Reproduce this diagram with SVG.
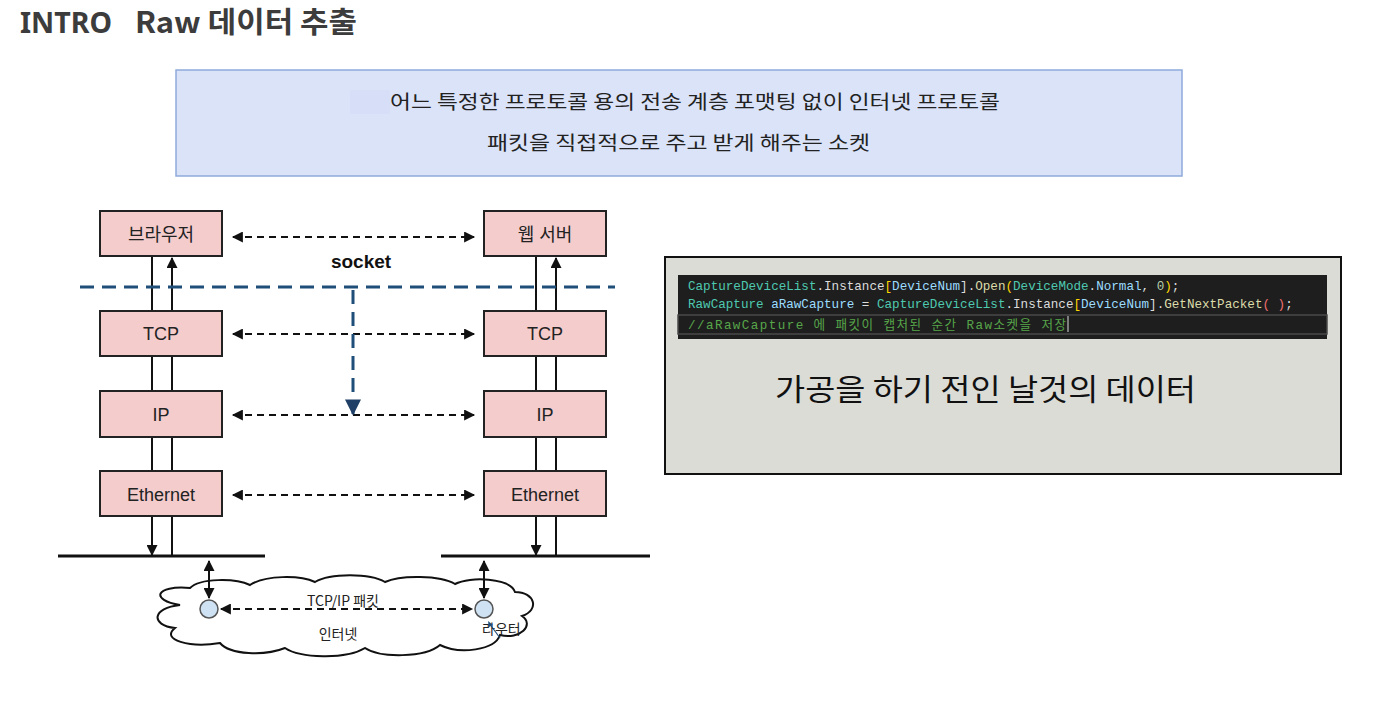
<svg xmlns="http://www.w3.org/2000/svg" width="1390" height="701" viewBox="0 0 1390 701">
<defs>
<marker id="ah" viewBox="0 0 10 10" refX="9" refY="5" markerWidth="13" markerHeight="11" markerUnits="userSpaceOnUse" orient="auto-start-reverse"><path d="M0,0 L10,5 L0,10 Z" fill="#111"/></marker>
<marker id="bh" viewBox="0 0 10 10" refX="9" refY="5" markerWidth="20" markerHeight="16" markerUnits="userSpaceOnUse" orient="auto"><path d="M0,0 L10,5 L0,10 Z" fill="#1f3f66"/></marker>
<style>
.kr{font-family:"Noto Sans CJK KR","Noto Sans",sans-serif}
.box rect{fill:#f4cccc;stroke:#222;stroke-width:2}
.box text{font-family:"Liberation Sans","Noto Sans CJK KR",sans-serif;font-size:18px;fill:#222;text-anchor:middle}
.ln{stroke:#111;stroke-width:2;fill:none}
.dash{stroke:#111;stroke-width:2;stroke-dasharray:7 5;fill:none}
.code{font-family:"Liberation Mono","Noto Sans CJK KR",monospace;font-size:12.6px}
</style>
</defs>
<rect width="1390" height="701" fill="#fff"/>

<g id="title">
<text x="20" y="33" font-family="Noto Sans,'Noto Sans CJK KR',sans-serif" font-weight="bold" font-size="29" fill="#3c3c3c" textLength="92" lengthAdjust="spacingAndGlyphs">INTRO</text>
<text x="135" y="33" class="kr" font-weight="bold" font-size="29" fill="#3c3c3c" textLength="222" lengthAdjust="spacingAndGlyphs">Raw 데이터 추출</text>
</g>

<g id="definition">
<rect x="176" y="70" width="1006" height="106" fill="#dae3f8" stroke="#8eaadb" stroke-width="1.5"/>
<rect x="350" y="90" width="40" height="24" fill="#d6dff7"/>
<text x="390" y="109" class="kr" font-size="19" fill="#222" textLength="610" lengthAdjust="spacingAndGlyphs">어느 특정한 프로토콜 용의 전송 계층 포맷팅 없이 인터넷 프로토콜</text>
<text x="487" y="150" class="kr" font-size="19" fill="#222" textLength="383" lengthAdjust="spacingAndGlyphs">패킷을 직접적으로 주고 받게 해주는 소켓</text>
</g>

<g id="connectors">
<line class="dash" x1="233" y1="237" x2="474" y2="237" marker-start="url(#ah)" marker-end="url(#ah)"/>
<line class="dash" x1="233" y1="334" x2="474" y2="334" marker-start="url(#ah)" marker-end="url(#ah)"/>
<line class="dash" x1="233" y1="415" x2="474" y2="415" marker-start="url(#ah)" marker-end="url(#ah)"/>
<line class="dash" x1="233" y1="495" x2="474" y2="495" marker-start="url(#ah)" marker-end="url(#ah)"/>
<line class="ln" x1="152" y1="256" x2="152" y2="311"/>
<line class="ln" x1="172" y1="311" x2="172" y2="258" marker-end="url(#ah)"/>
<line class="ln" x1="152" y1="356" x2="152" y2="391"/>
<line class="ln" x1="172" y1="356" x2="172" y2="391"/>
<line class="ln" x1="152" y1="437" x2="152" y2="471"/>
<line class="ln" x1="172" y1="437" x2="172" y2="471"/>
<line class="ln" x1="152" y1="516" x2="152" y2="555" marker-end="url(#ah)"/>
<line class="ln" x1="172" y1="516" x2="172" y2="556"/>
<line class="ln" x1="536" y1="256" x2="536" y2="311"/>
<line class="ln" x1="556" y1="311" x2="556" y2="258" marker-end="url(#ah)"/>
<line class="ln" x1="536" y1="356" x2="536" y2="391"/>
<line class="ln" x1="556" y1="356" x2="556" y2="391"/>
<line class="ln" x1="536" y1="437" x2="536" y2="471"/>
<line class="ln" x1="556" y1="437" x2="556" y2="471"/>
<line class="ln" x1="536" y1="516" x2="536" y2="555" marker-end="url(#ah)"/>
<line class="ln" x1="556" y1="516" x2="556" y2="556"/>
<line x1="58" y1="556" x2="265" y2="556" stroke="#111" stroke-width="3"/>
<line x1="441" y1="556" x2="650" y2="556" stroke="#111" stroke-width="3"/>
<line x1="80" y1="287" x2="615" y2="287" stroke="#1f4e79" stroke-width="3" stroke-dasharray="14 8"/>
<line x1="353" y1="290" x2="353" y2="414" stroke="#1f4e79" stroke-width="3" stroke-dasharray="14 8" marker-end="url(#bh)"/>
</g>

<text x="361" y="268" font-family="Liberation Sans,Arial,sans-serif" font-weight="bold" font-size="19" fill="#111" text-anchor="middle">socket</text>

<g id="browser" class="box"><rect x="100" y="211" width="122" height="45"/><text x="161" y="241">브라우저</text></g>
<g id="webserver" class="box"><rect x="484" y="211" width="122" height="45"/><text x="545" y="241">웹 서버</text></g>
<g id="tcp-left" class="box"><rect x="100" y="311" width="122" height="45"/><text x="161" y="340">TCP</text></g>
<g id="tcp-right" class="box"><rect x="484" y="311" width="122" height="45"/><text x="545" y="340">TCP</text></g>
<g id="ip-left" class="box"><rect x="100" y="391" width="122" height="46"/><text x="161" y="421">IP</text></g>
<g id="ip-right" class="box"><rect x="484" y="391" width="122" height="46"/><text x="545" y="421">IP</text></g>
<g id="eth-left" class="box"><rect x="100" y="471" width="122" height="45"/><text x="161" y="501">Ethernet</text></g>
<g id="eth-right" class="box"><rect x="484" y="471" width="122" height="45"/><text x="545" y="501">Ethernet</text></g>

<g id="internet">
<path d="M180,605 C150,600 155,585 190,588 C200,578 235,578 250,585 C265,575 300,575 315,582 C330,573 370,573 385,582 C400,575 440,575 455,584 C470,576 510,578 515,592 C535,592 540,610 522,616 C535,625 520,640 500,635 C495,650 460,655 440,645 C425,658 380,658 365,648 C345,660 300,658 285,648 C265,656 230,655 220,643 C190,648 160,640 175,628 C150,625 152,608 180,605 Z" fill="#fff" stroke="#111" stroke-width="2"/>
<text x="343" y="606" class="kr" font-size="14" fill="#222" text-anchor="middle">TCP/IP 패킷</text>
<text x="338" y="639" class="kr" font-size="14" fill="#222" text-anchor="middle">인터넷</text>
<text x="482" y="634" class="kr" font-size="14" fill="#222">라우터</text>
</g>

<g id="internet-links">
<line class="ln" x1="209" y1="561" x2="209" y2="598" marker-start="url(#ah)" marker-end="url(#ah)"/>
<line class="ln" x1="484" y1="561" x2="484" y2="598" marker-start="url(#ah)" marker-end="url(#ah)"/>
<line class="dash" x1="221" y1="609" x2="472" y2="609" marker-start="url(#ah)" marker-end="url(#ah)"/>
<line x1="500" y1="638" x2="489" y2="623" stroke="#1f4e79" stroke-width="1.2"/>
<path d="M488,621 L493,625 L489,627 Z" fill="#1f4e79"/>
</g>
<g id="router-left"><circle cx="209" cy="609" r="9" fill="#cfe2f3" stroke="#555" stroke-width="1.5"/></g>
<g id="router-right"><circle cx="484" cy="609" r="9" fill="#cfe2f3" stroke="#555" stroke-width="1.5"/></g>

<g id="code-panel">
<rect x="665" y="257" width="676" height="217" fill="#dcdcd7" stroke="#111" stroke-width="2"/>
<rect x="678" y="275" width="649" height="64" fill="#1e1e1e"/>
<rect x="678" y="315" width="649" height="19" fill="none" stroke="#4a4a4a" stroke-width="1.5"/>
<text x="688" y="290" class="code" fill="#dcdcdc"><tspan fill="#4ec9b0">CaptureDeviceList</tspan>.Instance<tspan fill="#ffd700">[</tspan><tspan fill="#9cdcfe">DeviceNum</tspan>].<tspan fill="#dcdcaa">Open</tspan><tspan fill="#ffd700">(</tspan><tspan fill="#4ec9b0">DeviceMode</tspan>.<tspan fill="#9cdcfe">Normal</tspan>, <tspan fill="#b5cea8">0</tspan><tspan fill="#ffd700">)</tspan>;</text>
<text x="688" y="308" class="code" fill="#dcdcdc"><tspan fill="#4ec9b0">RawCapture</tspan> <tspan fill="#9cdcfe">aRawCapture</tspan> = <tspan fill="#4ec9b0">CaptureDeviceList</tspan>.Instance<tspan fill="#ffd700">[</tspan><tspan fill="#9cdcfe">DeviceNum</tspan>].<tspan fill="#dcdcaa">GetNextPacket</tspan><tspan fill="#f07070">(</tspan> <tspan fill="#f07070">)</tspan>;</text>
<text x="688" y="329" class="code" fill="#57a64a" textLength="378" lengthAdjust="spacing">//aRawCapture 에 패킷이 캡처된 순간 Raw소켓을 저장</text>
<line x1="1068" y1="316" x2="1068" y2="332" stroke="#dcdcdc" stroke-width="1"/>
<text x="775" y="400" class="kr" font-size="30" fill="#111" textLength="421" lengthAdjust="spacingAndGlyphs">가공을 하기 전인 날것의 데이터</text>
</g>
</svg>
